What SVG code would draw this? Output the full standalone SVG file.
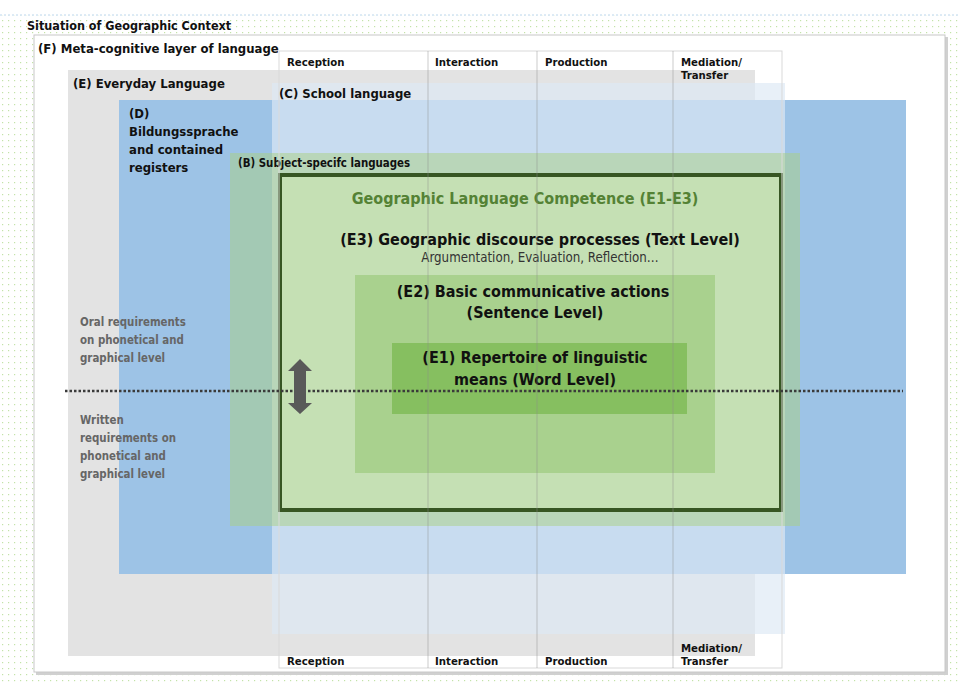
<svg xmlns="http://www.w3.org/2000/svg" width="959" height="684" viewBox="0 0 959 684">
  <style>
    text { font-family: "DejaVu Sans Condensed", "DejaVu Sans", sans-serif; font-stretch: condensed; font-weight: bold; fill: #111; }
    .hdr { font-size: 11.3px; }
    .lvl { font-size: 13px; }
    .mid { text-anchor: middle; }
    .big { font-size: 16px; }
    .req { font-size: 11.4px; fill: #666; }
    .sub { font-size: 13.2px; font-weight: normal; fill: #333; }
    .col { stroke: #8c8c8c; stroke-opacity: 0.45; stroke-width: 1; }
  </style>
  <defs>
    <pattern id="dots" width="6" height="6" patternUnits="userSpaceOnUse">
      <rect x="2" y="2" width="1.2" height="1.2" fill="#c3e2a8"/>
    </pattern>
  </defs>

  <!-- page background -->
  <rect width="959" height="684" fill="#fff"/>
  <rect x="0" y="15" width="959" height="669" fill="url(#dots)"/>
  <line x1="0" y1="15" x2="959" y2="15" stroke="#bcd6ec" stroke-width="1" stroke-dasharray="2,2"/>
  <text x="27" y="30" style="font-size:12.5px">Situation of Geographic Context</text>

  <!-- (F) meta-cognitive frame -->
  <g id="layer-f">
    <rect x="36" y="37" width="912" height="638" fill="#d0d0d0"/>
    <rect x="34" y="35" width="911" height="637" fill="#fff" stroke="#c8c8c8" stroke-width="1"/>
    <text class="lvl" x="38" y="53">(F) Meta-cognitive layer of language</text>
  </g>

  <!-- (E) everyday language -->
  <g id="layer-e">
    <rect x="68" y="70" width="687" height="586" fill="#e3e3e3"/>
    <text class="lvl" x="73" y="88">(E) Everyday Language</text>
  </g>

  <!-- (D) Bildungssprache -->
  <g id="layer-d">
    <rect x="119" y="100" width="787" height="474" fill="#9dc3e6"/>
  </g>

  <!-- (C) school language -->
  <g id="layer-c">
    <rect x="272" y="83" width="513" height="551" fill="#dde9f5" fill-opacity="0.67"/>
    <text class="lvl" x="279" y="98">(C) School language</text>
  </g>

  <g id="layer-d-label">
    <text class="lvl" x="129" y="118">(D)</text>
    <text class="lvl" x="129" y="136">Bildungssprache</text>
    <text class="lvl" x="129" y="154">and contained</text>
    <text class="lvl" x="129" y="172">registers</text>
  </g>

  <!-- (B) subject-specific languages -->
  <g id="layer-b">
    <rect x="230" y="153" width="570" height="373" fill="#a9cf82" fill-opacity="0.5"/>
    <text class="hdr" x="238" y="167" style="font-size:11.4px">(B) Subject-specifc languages</text>
  </g>

  <!-- geographic language competence -->
  <g id="competence">
    <rect x="280" y="175" width="501" height="335" fill="#c5e0b4" stroke="#375623" stroke-width="4"/>
    <text class="big mid" x="525" y="204" style="fill:#548235">Geographic Language Competence (E1-E3)</text>
  </g>

  <g id="e3">
    <text class="big mid" x="540" y="245">(E3) Geographic discourse processes (Text Level)</text>
    <text class="sub mid" x="540" y="262">Argumentation, Evaluation, Reflection…</text>
  </g>

  <g id="e2">
    <rect x="355" y="275" width="360" height="198" fill="#a9d18e"/>
    <text class="big mid" x="533" y="297">(E2) Basic communicative actions</text>
    <text class="big mid" x="535" y="318">(Sentence Level)</text>
  </g>

  <g id="e1">
    <rect x="392" y="343" width="295" height="71" fill="#86bf60"/>
    <text class="big mid" x="535" y="363">(E1) Repertoire of linguistic</text>
    <text class="big mid" x="535" y="385">means (Word Level)</text>
  </g>

  <!-- skill columns -->
  <g id="columns">
    <rect x="279" y="51" width="503" height="617" fill="none" stroke="#d9d9d9" stroke-width="1"/>
    <line class="col" x1="428" y1="51" x2="428" y2="668"/>
    <line class="col" x1="537" y1="51" x2="537" y2="668"/>
    <line class="col" x1="673" y1="51" x2="673" y2="668"/>
    <text class="hdr" x="287" y="66">Reception</text>
    <text class="hdr" x="435" y="66">Interaction</text>
    <text class="hdr" x="545" y="66">Production</text>
    <text class="hdr" x="681" y="66">Mediation/</text>
    <text class="hdr" x="681" y="79">Transfer</text>
    <text class="hdr" x="287" y="665">Reception</text>
    <text class="hdr" x="435" y="665">Interaction</text>
    <text class="hdr" x="545" y="665">Production</text>
    <text class="hdr" x="681" y="652">Mediation/</text>
    <text class="hdr" x="681" y="665">Transfer</text>
  </g>

  <!-- oral / written divide -->
  <g id="connectors">
    <line x1="65" y1="391" x2="903" y2="391" stroke="#3a3a3a" stroke-width="2.5" stroke-dasharray="2.5,2"/>
    <path d="M300,359 L312,371 L306,371 L306,403 L312,403 L300,414 L288,403 L294,403 L294,371 L288,371 Z" fill="#595959"/>
  </g>

  <g id="requirements">
    <text class="req" x="80" y="326">Oral requirements</text>
    <text class="req" x="80" y="344">on phonetical and</text>
    <text class="req" x="80" y="362">graphical level</text>
    <text class="req" x="80" y="424">Written</text>
    <text class="req" x="80" y="442">requirements on</text>
    <text class="req" x="80" y="460">phonetical and</text>
    <text class="req" x="80" y="478">graphical level</text>
  </g>
</svg>
